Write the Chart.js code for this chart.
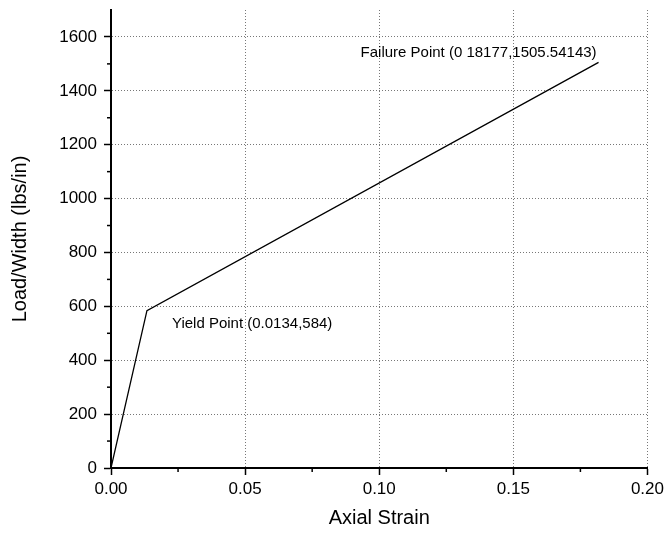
<!DOCTYPE html>
<html>
<head>
<meta charset="utf-8">
<script src="https://cdn.jsdelivr.net/npm/chart.js@4"></script>
<style>
  html, body { margin: 0; padding: 0; background: #fff; }
  #wrap { width: 668px; height: 534px; position: relative; }
</style>
</head>
<body>
<div id="wrap"><canvas id="strainChart"></canvas></div>
<script>
const strain = [0, 0.0134, 0.18177];
const load = [0, 584, 1505.54143];
const xTicks = [0, 0.05, 0.10, 0.15, 0.20];
const yTicks = [0, 200, 400, 600, 800, 1000, 1200, 1400, 1600];
const notes = [
  { x: 0.0134, y: 584, text: "Yield Point (0.0134,584)", dx: 25, dy: 13, align: "left" },
  { x: 0.18177, y: 1505.54143, text: "Failure Point (0 18177,1505.54143)", dx: -2, dy: -10, align: "right" },
];

const points = strain.map((s, i) => ({ x: s, y: load[i] }));

// minor ticks and point labels
const extras = {
  id: "extras",
  afterDraw(chart) {
    const ctx = chart.ctx;
    const xs = chart.scales.x;
    const ys = chart.scales.y;
    ctx.save();
    ctx.strokeStyle = "#000";
    ctx.lineWidth = 1.5;
    for (let v = 0.025; v < 0.2; v += 0.05) {
      const px = xs.getPixelForValue(v);
      ctx.beginPath();
      ctx.moveTo(px, ys.bottom);
      ctx.lineTo(px, ys.bottom + 4);
      ctx.stroke();
    }
    for (let v = 100; v < 1700; v += 200) {
      const py = ys.getPixelForValue(v);
      ctx.beginPath();
      ctx.moveTo(xs.left, py);
      ctx.lineTo(xs.left - 4, py);
      ctx.stroke();
    }
    ctx.fillStyle = "#000";
    ctx.font = "15px 'Liberation Sans', Arial, sans-serif";
    ctx.textBaseline = "middle";
    notes.forEach((n) => {
      ctx.textAlign = n.align;
      ctx.fillText(n.text, xs.getPixelForValue(n.x) + n.dx, ys.getPixelForValue(n.y) + n.dy);
    });
    ctx.restore();
  },
};

const font = { family: "'Liberation Sans', Arial, sans-serif", size: 17 };
const titleFont = { family: "'Liberation Sans', Arial, sans-serif", size: 20 };

const gridStyle = {
  color: (c) => (c.tick && c.tick.value === 0 ? "rgba(0,0,0,0)" : "#777"),
  lineWidth: 1,
  drawTicks: true,
  tickLength: 7,
  tickColor: "#000",
  tickWidth: 1.5,
  tickBorderDash: [],
};

new Chart(document.getElementById("strainChart"), {
  type: "scatter",
  data: {
    datasets: [
      {
        data: points,
        showLine: true,
        borderColor: "#000",
        borderWidth: 1.3,
        pointRadius: 0,
        tension: 0,
      },
    ],
  },
  options: {
    responsive: true,
    maintainAspectRatio: false,
    animation: false,
    layout: { padding: { top: 10, right: 19, left: 0, bottom: 0 } },
    plugins: {
      legend: { display: false },
      tooltip: { enabled: false },
    },
    scales: {
      x: {
        type: "linear",
        min: 0,
        max: 0.2,
        afterBuildTicks: (s) => { s.ticks = xTicks.map((v) => ({ value: v })); },
        afterFit: (s) => { s.height = 66; },
        ticks: {
          color: "#000",
          font,
          padding: 4,
          maxRotation: 0,
          callback: (v) => Number(v).toFixed(2),
        },
        grid: gridStyle,
        border: { color: "#000", width: 2, dash: [1, 2] },
        title: { display: true, text: "Axial Strain", color: "#000", font: titleFont, padding: { top: 8 } },
      },
      y: {
        min: 0,
        max: 1700,
        afterBuildTicks: (s) => { s.ticks = yTicks.map((v) => ({ value: v })); },
        afterFit: (s) => { s.width = 111; s.paddingTop = 0; s.paddingBottom = 0; },
        ticks: { color: "#000", font, padding: 7, callback: (v) => String(v) },
        grid: gridStyle,
        border: { color: "#000", width: 2, dash: [1, 2] },
        title: { display: true, text: "Load/Width (lbs/in)", color: "#000", font: titleFont, padding: { top: 8, bottom: 4 } },
      },
    },
  },
  plugins: [extras],
});
</script>
</body>
</html>
